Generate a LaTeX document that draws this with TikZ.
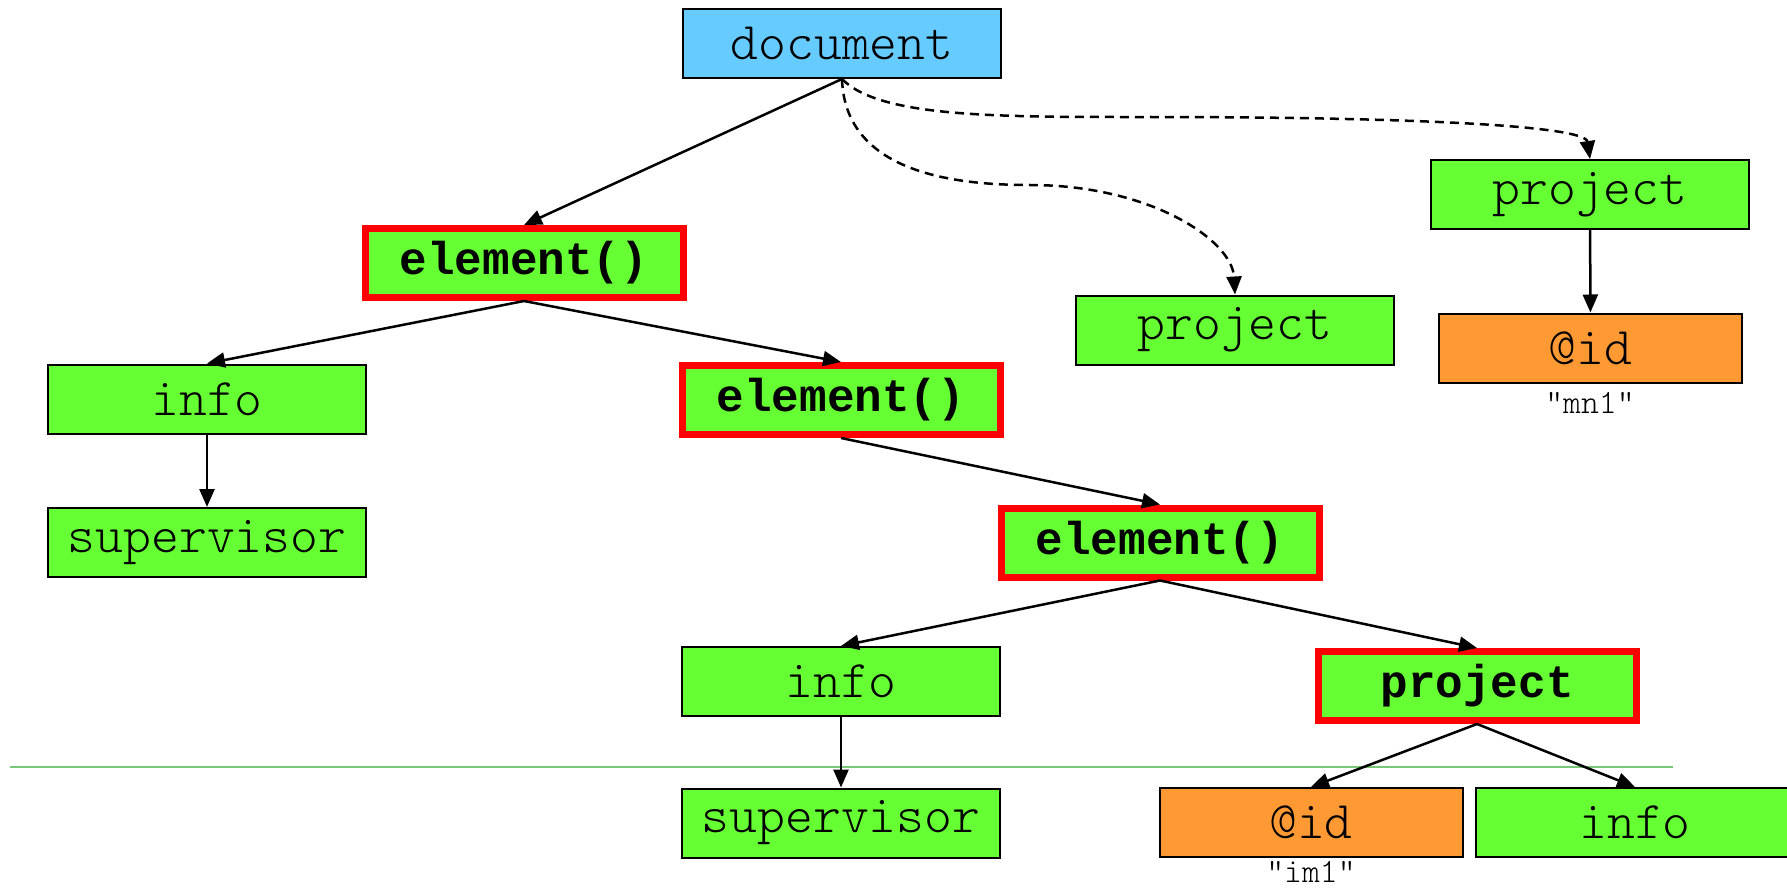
\documentclass[tikz,border=0pt]{standalone}
\usepackage{fontspec}
\setmonofont{Liberation Mono}
\newfontfamily\thintt{Latin Modern Mono Light}
\usetikzlibrary{arrows.meta}
\definecolor{docblue}{RGB}{102,204,255}
\definecolor{fgreen}{RGB}{102,255,51}
\definecolor{forange}{RGB}{255,153,51}
\definecolor{fred}{RGB}{255,0,0}
\definecolor{lgreen}{RGB}{120,200,120}
\begin{document}
\begin{tikzpicture}[x=0.5pt,y=-0.5pt,
 box/.style={draw=black, line width=1pt, minimum width=159pt, minimum height=34.5pt, inner sep=0pt, font=\thintt\fontsize{26.5}{30}\selectfont},
 gbox/.style={box, fill=fgreen},
 rbox/.style={box, fill=fgreen, draw=fred, line width=3.5pt, font=\ttfamily\bfseries\fontsize{23}{27}\selectfont},
 obox/.style={box, fill=forange, minimum width=151.5pt},
 edge/.style={line width=1.25pt, -{Triangle[length=9pt,width=7.5pt]}},
 dedge/.style={edge, dash pattern=on 4.5pt off 3pt},
 val/.style={font=\thintt\fontsize{17}{20}\selectfont, inner sep=0pt}]
\clip (0,0) rectangle (1787,888);
\fill[white] (0,0) rectangle (1787,888);

\draw[lgreen, line width=1pt] (10,767) -- (1673,767);

\node[box, fill=docblue] (doc) at (842,43.5) {document};
\node[rbox] (el1) at (524,263) {element()};
\node[gbox] (proj1) at (1235,330) {project};
\node[gbox] (proj2) at (1590,194.5) {project};
\node[obox] (id1) at (1590.5,348) {@id};
\node[val] (mn1) at (1590,403) {"mn1"};
\node[gbox] (info1) at (207,399) {info};
\node[gbox] (sup1) at (207,542.5) {supervisor};
\node[rbox] (el2) at (841,400) {element()};
\node[rbox] (el3) at (1160,542.5) {element()};
\node[gbox] (info2) at (841,681.5) {info};
\node[gbox] (sup2) at (841,823) {supervisor};
\node[rbox] (projb) at (1477,686) {project};
\node[obox] (id2) at (1311,822.5) {@id};
\node[val] (im1) at (1311,872) {"im1"};
\node[gbox] (info3) at (1635,822.5) {info};

\coordinate (m1) at (1030,185);
\coordinate (m2) at (1150,117);

\draw[edge] (doc.south) -- (el1.north);
\draw[dedge] (doc.south) .. controls (845,175) and (960,185) .. (m1) .. controls (1150,185) and (1232,240) .. (proj1.north);
\draw[dedge] (doc.south) .. controls (880,118) and (1000,117) .. (m2) .. controls (1400,117) and (1585,125) .. (proj2.north);
\draw[edge] (proj2) -- (id1);
\draw[edge] (el1.south) -- (info1.north);
\draw[edge] (el1.south) -- (el2.north);
\draw[edge] (info1) -- (sup1);
\draw[edge] (el2.south) -- (el3.north);
\draw[edge] (el3.south) -- (info2.north);
\draw[edge] (el3.south) -- (projb.north);
\draw[edge] (info2) -- (sup2);
\draw[edge] (projb.south) -- (id2.north);
\draw[edge] (projb.south) -- (info3.north);
\end{tikzpicture}
\end{document}
